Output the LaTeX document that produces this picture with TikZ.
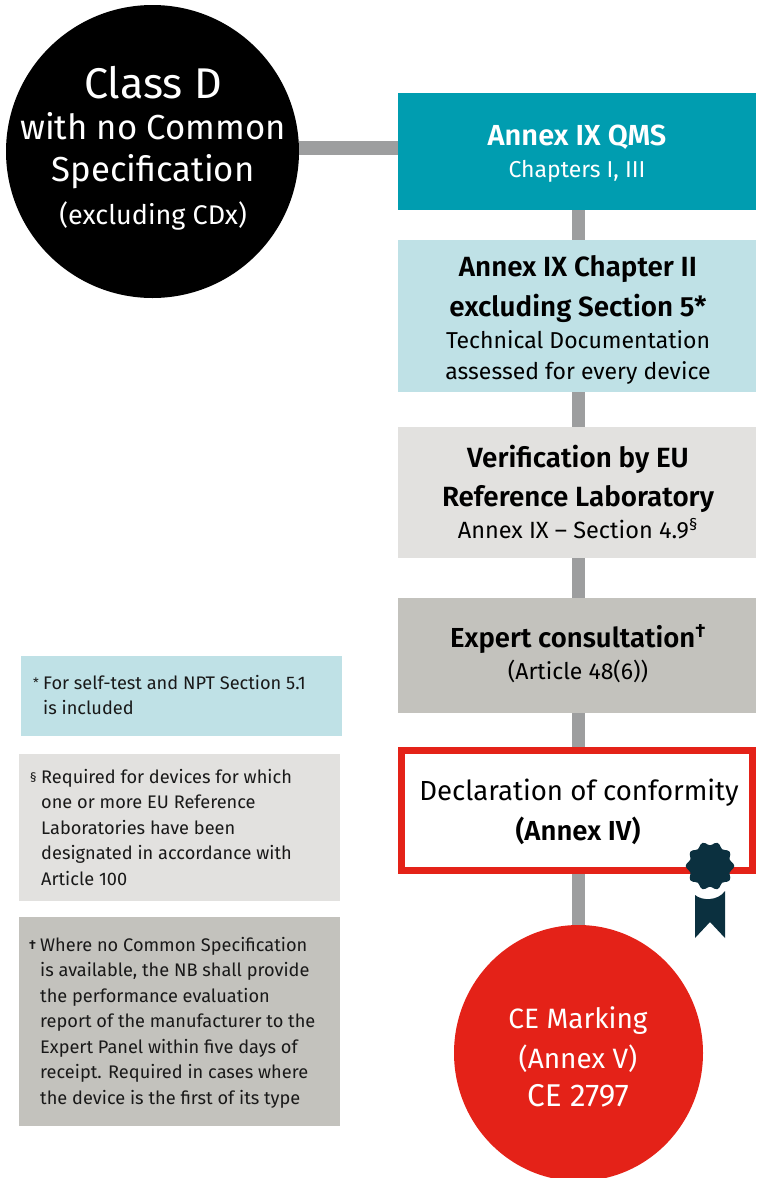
\documentclass[tikz,border=0pt]{standalone}
\usepackage{fontspec}
\setmainfont{Fira Sans}[BoldFont=Fira Sans SemiBold]
\usetikzlibrary{positioning,calc,shapes.geometric}
\definecolor{qmsteal}{HTML}{009DB0}
\definecolor{paleblue}{HTML}{BFE1E6}
\definecolor{palegrey}{HTML}{E2E1DF}
\definecolor{midgrey}{HTML}{C3C2BD}
\definecolor{linkgrey}{HTML}{9D9E9F}
\definecolor{markred}{HTML}{E42218}
\definecolor{sealblue}{HTML}{0B303F}
\newcommand{\txtsize}[1]{\fontsize{#1}{#1}\selectfont}
\newcommand{\notemark}[1]{\llap{\txtsize{13}\raisebox{2pt}{#1}\,\,}}

\begin{document}
\begin{tikzpicture}[x=1pt,y=-1pt]
            \tikzset{
              stepbox/.style={minimum width=358pt, inner sep=0pt, outer sep=0pt, align=center, anchor=north west, text=black},
              notebox/.style={minimum width=321pt, inner sep=0pt, anchor=north west},
              notetext/.style={anchor=north west, inner sep=0pt, align=left, font=\txtsize{18.2}, text=black!90},
              disc/.style={circle, inner sep=0pt, align=center},
              linkbar/.style={linkgrey, line width=13.5pt},
            }
            \useasboundingbox (0,0) rectangle (756,1178);
            \begin{scope}
            \clip (0,0) rectangle (756,1178);
            \node[ellipse, fill=markred, inner sep=0pt, minimum width=249pt, minimum height=256pt] (ce) at (578.5,1053) {};
            \end{scope}

            \node[stepbox, fill=qmsteal, minimum height=117pt] (qms) at (398,93) {};
            \node[stepbox, fill=paleblue, minimum height=152pt] (tech) at (398,240) {};
            \node[stepbox, fill=palegrey, minimum height=131pt] (lab) at (398,427) {};
            \node[stepbox, fill=midgrey, minimum height=115pt] (expert) at (398,598) {};
            \node[stepbox, draw=markred, line width=7pt, fill=white, minimum width=351pt, minimum height=120pt] (decl) at (401.5,750.5) {};
            \node[disc, fill=black, minimum size=293pt] (classd) at (152.5,151.5) {};
            \coordinate (qmsin) at (398,148);

            \draw[linkbar] (classd.east |- qmsin) -- (qmsin);
            \draw[linkbar] (qms.south -| ce.north) -- (tech.north -| ce.north);
            \draw[linkbar] (tech.south -| ce.north) -- (lab.north -| ce.north);
            \draw[linkbar] (lab.south -| ce.north) -- (expert.north -| ce.north);
            \draw[linkbar] (expert.south -| ce.north) -- ($(decl.north -| ce.north)+(0,-3.5)$);
            \draw[linkbar] ($(decl.south -| ce.north)+(0,3.5)$) -- (ce.north);

            \node[text=white, align=center, font=\txtsize{43}] (classdtitle) at (153,83) {Class D};
            \node[text=white, align=center, font=\txtsize{34.7}] (classdname) at (153,151) {with no Common\\[7pt]Specification};
            \node[text=white, align=center, font=\txtsize{27}] (classdnote) at (153,216) {(excluding CDx)};

            \node[text=white, align=center, font=\txtsize{29}\bfseries] (qmstitle) at (577,137) {Annex IX QMS};
            \node[text=white, align=center, font=\txtsize{23}] (qmstext) at (577,171) {Chapters I, III};

            \node[align=center, font=\txtsize{27.8}\bfseries] (techtitle) at (578,289) {Annex IX Chapter II\\[10.5pt]excluding Section 5*};
            \node[align=center, font=\txtsize{23}] (techtext) at (578,357) {Technical Documentation\\[8pt]assessed for every device};

            \node[align=center, font=\txtsize{27.8}\bfseries] (labtitle) at (578,479) {Verification by EU\\[10.5pt]Reference Laboratory};
            \node[align=center, font=\txtsize{23.5}] (labtext) at (578,529) {Annex IX – Section 4.9\textsuperscript{§}};

            \node[align=center, font=\txtsize{27.5}\bfseries] (experttitle) at (578,639) {Expert consultation\textsuperscript{†}};
            \node[align=center, font=\txtsize{23}] (experttext) at (578,671) {(Article 48(6))};

            \node[align=center, font=\txtsize{27.6}] (decltitle) at (579,793) {Declaration of conformity};
            \node[align=center, font=\txtsize{27.5}\bfseries] (declannex) at (578,831) {(Annex IV)};

            \node[text=white, align=center, font=\txtsize{28}] (cetext) at (578,1057) {CE Marking\\[10pt](Annex V)\\[10pt]{\txtsize{31.5}CE 2797}};

            % ribbon and seal
            \fill[sealblue] (695,895) .. controls (702,901) and (718,901) .. (725,891) -- (725,938) -- (710,922) -- (695,938) -- cycle;
            \fill[sealblue] plot[smooth cycle, samples=60, domain=0:354] ({710+(22.5+1.8*cos(10*\x))*cos(\x)},{866+(22.5+1.8*cos(10*\x))*sin(\x)});

            \node[notebox, fill=paleblue, minimum height=80pt] (note1) at (21,656) {};
            \node[notebox, fill=palegrey, minimum height=147pt] (note2) at (19,754) {};
            \node[notebox, fill=midgrey, minimum height=209pt] (note3) at (19,917) {};

            \node[notetext] (note1text) at (43,675) {\notemark{*}For self-test and NPT Section 5.1\\[7.3pt]is included};
            \node[notetext] (note2text) at (41,769) {\notemark{§}Required for devices for which\\[7.3pt]one or more EU Reference\\[7.3pt]Laboratories have been\\[7.3pt]designated in accordance with\\[7.3pt]Article 100};
            \node[notetext] (note3text) at (40,937) {\notemark{\textbf{†}}Where no Common Specification\\[7.3pt]is available, the NB shall provide\\[7.3pt]the performance evaluation\\[7.3pt]report of the manufacturer to the\\[7.3pt]Expert Panel within five days of\\[7.3pt]receipt. Required in cases where\\[7.3pt]the device is the first of its type};
\end{tikzpicture}
\end{document}
